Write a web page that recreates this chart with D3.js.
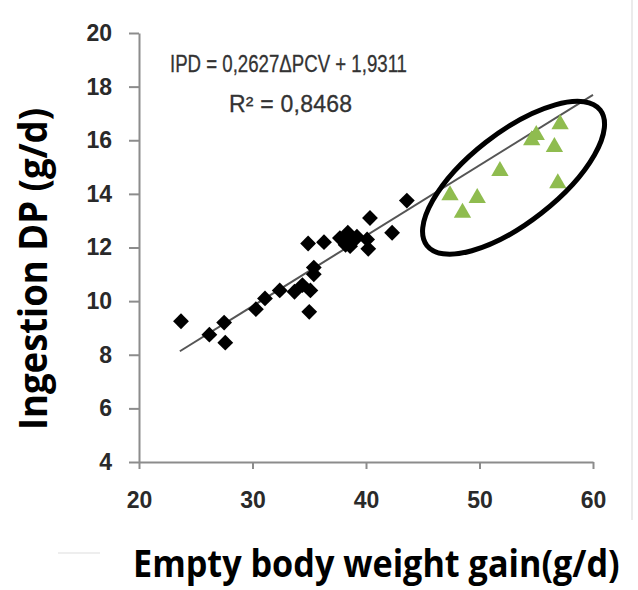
<!DOCTYPE html>
<html lang="en">
<head>
    <meta charset="UTF-8">
    <title>Ingestion DP vs empty body weight gain</title>
    <style>
        body { margin: 0; background: #fff; }
        svg { display: block; }
    </style>
</head>
<body>
    <script src="https://d3js.org/d3.v7.min.js"></script>
    <script>
        // data
        const blackX = [23.7, 26.2, 27.5, 27.6, 30.3, 31.1, 32.4, 33.7, 34.4, 35.1, 35.0, 35.4, 35.4, 34.9, 36.3, 37.7, 38.2, 38.4, 38.6, 39.2, 38.9, 40.1, 40.2, 40.35, 42.3, 43.6];
        const blackY = [9.25, 8.75, 9.2, 8.45, 9.7, 10.1, 10.4, 10.35, 10.6, 10.4, 9.6, 11.25, 11.0, 12.15, 12.2, 12.35, 12.1, 12.55, 12.05, 12.4, 12.25, 12.3, 11.95, 13.1, 12.55, 13.75];
        const greenX = [47.4, 48.5, 49.8, 51.8, 54.6, 55.0, 56.6, 57.1, 56.9];
        const greenY = [13.95, 13.3, 13.85, 14.85, 16.0, 16.2, 15.75, 16.6, 14.4];
        const xTicks = [20, 30, 40, 50, 60];
        const yTicks = [4, 6, 8, 10, 12, 14, 16, 18, 20];
        const slope = 0.2627, intercept = 1.9311;
        const lineX = [23.6, 60];
        const ringCenter = [53.0, 14.6];

        const width = 638, height = 590;
        const svg = d3.select('body').append('svg')
            .attr('width', width)
            .attr('height', height);

        const x = d3.scaleLinear().domain([20, 60]).range([139, 593]);
        const y = d3.scaleLinear().domain([4, 20]).range([462, 33]);

        // frame remnants
        svg.append('line')
            .attr('x1', 632).attr('x2', 632).attr('y1', 0).attr('y2', 520)
            .style('stroke', '#e4e4e4').style('stroke-width', 1.5);
        svg.append('line')
            .attr('x1', 58).attr('x2', 100).attr('y1', 553).attr('y2', 553)
            .style('stroke', '#e8e8e8').style('stroke-width', 1.5);

        const tickFont = '"Liberation Sans", Arial, sans-serif';
        const noteFont = '"Liberation Sans Narrow", "Liberation Sans", sans-serif';

        // axes
        const xAxis = svg.append('g')
            .attr('transform', `translate(0,${y(4)})`)
            .call(d3.axisBottom(x).tickValues(xTicks).tickSize(7).tickSizeOuter(0).tickPadding(23));
        const yAxis = svg.append('g')
            .attr('transform', `translate(${x(20)},0)`)
            .call(d3.axisLeft(y).tickValues(yTicks).tickSize(10).tickSizeOuter(0).tickPadding(17));

        [xAxis, yAxis].forEach(g => {
            g.select('.domain').style('stroke', '#8c8c8c').style('stroke-width', 2);
            g.selectAll('.tick line').style('stroke', '#8c8c8c').style('stroke-width', 2);
            g.selectAll('.tick text')
                .style('font-family', tickFont)
                .style('font-size', '23px')
                .style('font-weight', 'bold')
                .style('fill', '#2a2a2a');
        });
        xAxis.selectAll('.tick text').attr('dy', '0.71em');

        // trend line
        svg.append('line')
            .attr('x1', x(lineX[0])).attr('y1', y(slope * lineX[0] + intercept))
            .attr('x2', x(lineX[1])).attr('y2', y(slope * lineX[1] + intercept))
            .style('stroke', '#555').style('stroke-width', 2);

        // black diamonds
        const diamond = d3.symbol().type(d3.symbolSquare).size(125);
        svg.selectAll('.dia')
            .data(blackX.map((v, i) => [v, blackY[i]]))
            .enter().append('path')
            .attr('class', 'dia')
            .attr('d', diamond)
            .attr('transform', d => `translate(${x(d[0])},${y(d[1])}) rotate(45)`)
            .style('fill', '#000');

        // green triangles
        const tri = d3.symbol().type(d3.symbolTriangle).size(130);
        svg.selectAll('.tri')
            .data(greenX.map((v, i) => [v, greenY[i]]))
            .enter().append('path')
            .attr('class', 'tri')
            .attr('d', tri)
            .attr('transform', d => `translate(${x(d[0])},${y(d[1])})`)
            .style('fill', '#8fbc4f');

        // ellipse around the green group
        svg.append('ellipse')
            .attr('cx', 0).attr('cy', 0)
            .attr('rx', 110).attr('ry', 45)
            .attr('transform', `translate(${x(ringCenter[0])},${y(ringCenter[1])}) rotate(-38)`)
            .style('fill', 'none')
            .style('stroke', '#000')
            .style('stroke-width', 5);

        // equation
        svg.append('text')
            .attr('x', 170).attr('y', 72)
            .attr('textLength', 237)
            .attr('lengthAdjust', 'spacingAndGlyphs')
            .style('font-family', noteFont)
            .style('font-size', '23px')
            .style('fill', '#333')
            .style('stroke', '#333')
            .style('stroke-width', 0.3)
            .text('IPD = 0,2627ΔPCV + 1,9311');
        svg.append('text')
            .attr('x', 229).attr('y', 112)
            .attr('textLength', 123)
            .attr('lengthAdjust', 'spacing')
            .style('font-family', noteFont)
            .style('font-size', '23px')
            .style('fill', '#333')
            .style('stroke', '#333')
            .style('stroke-width', 0.3)
            .text('R² = 0,8468');

        // axis titles
        svg.append('text')
            .attr('transform', `translate(47,430) rotate(-90)`)
            .attr('textLength', 322)
            .attr('lengthAdjust', 'spacingAndGlyphs')
            .style('font-family', '"Open Sans", sans-serif')
            .style('font-size', '39px')
            .style('font-weight', 'bold')
            .style('fill', '#000')
            .text('Ingestion DP (g/d)');
        svg.append('text')
            .attr('transform', 'translate(133,577) scale(0.9,1)')
            .style('font-family', '"Open Sans", sans-serif')
            .style('font-size', '38px')
            .style('font-weight', 'bold')
            .style('fill', '#000')
            .text('Empty body weight gain(g/d)');
    </script>
</body>
</html>
